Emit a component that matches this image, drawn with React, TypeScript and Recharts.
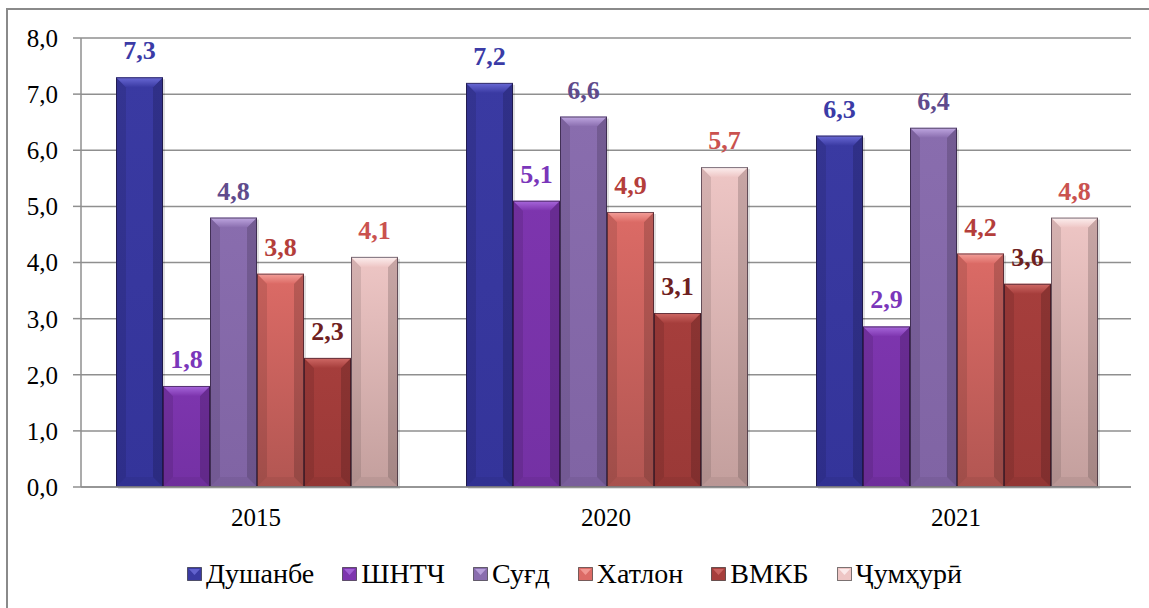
import React from 'react';
import { BarChart, Bar, XAxis, YAxis, CartesianGrid, LabelList, Legend } from 'recharts';

const years = ['2015', '2020', '2021'];
const dushanbe = [7.3, 7.2, 6.26];
const shntch = [1.8, 5.1, 2.86];
const sughd = [4.8, 6.6, 6.4];
const khatlon = [3.8, 4.9, 4.16];
const vmkb = [2.3, 3.1, 3.62];
const jumhuri = [4.1, 5.7, 4.8];
const yTicks = [0, 1, 2, 3, 4, 5, 6, 7, 8];
const edgeTicks = [0, 1, 2, 3];

const FONT = "'Liberation Serif', 'Times New Roman', serif";

const series = [
  { key: 'dushanbe', name: 'Душанбе', values: dushanbe, top: '#3A3AA2', bottom: '#34349A', light: '#6A6AD6', label: '#3B3BA6' },
  { key: 'shntch', name: 'ШНТЧ', values: shntch, top: '#7D35AE', bottom: '#7431A4', light: '#A868DC', label: '#7A36BA' },
  { key: 'sughd', name: 'Суғд', values: sughd, top: '#896DAE', bottom: '#8064A4', light: '#C0A8E2', label: '#5F4B8C' },
  { key: 'khatlon', name: 'Хатлон', values: khatlon, top: '#DC6B66', bottom: '#B25652', light: '#F4A09A', label: '#B43E3B' },
  { key: 'vmkb', name: 'ВМКБ', values: vmkb, top: '#A63E3C', bottom: '#9A3937', light: '#D06A66', label: '#6E2020' },
  { key: 'jumhuri', name: 'Ҷумҳурӣ', values: jumhuri, top: '#EEC6C5', bottom: '#C39F9D', light: '#FDF0F0', label: '#CA524F' },
];

const data = years.map((year, i) => {
  const row: any = { year };
  series.forEach((s) => {
    row[s.key] = s.values[i];
  });
  return row;
});

const fmt = (v: any) => Number(v).toFixed(1).replace('.', ',');

const makeShape = (sid: string) => (props: any) => {
  const { x, y, width, height } = props;
  if (!height || height <= 0) return <g />;
  const b = Math.min(10, height / 2, width / 4);
  const x2 = x + width;
  const y2 = y + height;
  return (
    <g>
      <rect x={x + 2} y={y + 2} width={width} height={height} fill="rgba(0,0,0,0.12)" />
      <rect x={x} y={y} width={width} height={height} fill={`url(#body-${sid})`} />
      <polygon points={`${x},${y} ${x + b},${y + b} ${x + b},${y2 - b} ${x},${y2}`} fill="rgba(0,0,0,0.10)" />
      <polygon points={`${x2},${y} ${x2 - b},${y + b} ${x2 - b},${y2 - b} ${x2},${y2}`} fill="rgba(0,0,0,0.16)" />
      <polygon points={`${x},${y2} ${x + b},${y2 - b} ${x2 - b},${y2 - b} ${x2},${y2}`} fill="rgba(0,0,0,0.05)" />
      <polygon points={`${x},${y} ${x2},${y} ${x2 - b},${y + b} ${x + b},${y + b}`} fill={`url(#top-${sid})`} />
      <rect x={x + 0.5} y={y + 0.5} width={width - 1} height={height - 1} fill="none" stroke="rgba(20,10,30,0.55)" strokeWidth={1} />
    </g>
  );
};

const renderLegend = () => (
  <div
    style={{
      display: 'flex',
      justifyContent: 'center',
      alignItems: 'center',
      fontFamily: FONT,
      fontSize: 28,
      lineHeight: '32px',
      color: '#000',
      whiteSpace: 'nowrap',
    }}
  >
    {series.map((s, i) => (
      <div key={s.key} style={{ display: 'flex', alignItems: 'center', marginRight: i < series.length - 1 ? 28 : 0 }}>
        <svg width={15} height={14} style={{ marginRight: 4 }}>
          <rect x={0.5} y={0.5} width={14} height={13} fill={s.top} stroke="rgba(0,0,0,0.5)" />
          <polygon points="2,2 13,2 7.5,8" fill={s.light} opacity={0.85} />
        </svg>
        <span>{s.name}</span>
      </div>
    ))}
  </div>
);

export default function App() {
  return (
    <div style={{ position: 'absolute', left: 0, top: 0, width: 1149, height: 608, overflow: 'hidden', background: '#fff', fontFamily: FONT }}>
      <div
        style={{
          position: 'absolute',
          left: 6,
          top: 8,
          width: 1170,
          height: 640,
          border: '2px solid #8A8A8A',
          boxSizing: 'border-box',
        }}
      />
      <div style={{ position: 'absolute', left: 0, top: 0 }}>
        <BarChart
          width={1149}
          height={608}
          data={data}
          margin={{ top: 38, right: 18, left: 0, bottom: 81 }}
          barCategoryGap="10%"
          barGap={0}
        >
          <defs>
            {series.map((s) => (
              <linearGradient key={`b-${s.key}`} id={`body-${s.key}`} x1="0" y1="0" x2="0" y2="1">
                <stop offset="0%" stopColor={s.top} />
                <stop offset="100%" stopColor={s.bottom} />
              </linearGradient>
            ))}
            {series.map((s) => (
              <linearGradient key={`t-${s.key}`} id={`top-${s.key}`} x1="0" y1="0" x2="0" y2="1">
                <stop offset="0%" stopColor={s.light} />
                <stop offset="100%" stopColor={s.top} />
              </linearGradient>
            ))}
          </defs>
          <CartesianGrid vertical={false} stroke="#8F8F8F" strokeWidth={1.5} />
          <XAxis
            xAxisId="edge"
            type="number"
            domain={[0, 3]}
            ticks={edgeTicks}
            allowDataOverflow
            height={0}
            tick={false}
            tickSize={8}
            axisLine={false}
            tickLine={{ stroke: '#8F8F8F', strokeWidth: 1.5 }}
          />
          <XAxis
            dataKey="year"
            height={40}
            tickLine={false}
            tickSize={8}
            tickMargin={13}
            axisLine={{ stroke: '#8F8F8F', strokeWidth: 1.5 }}
            tick={{ fontSize: 25, fill: '#000', fontFamily: FONT }}
          />
          <YAxis
            width={81}
            domain={[0, 8]}
            ticks={yTicks}
            interval={0}
            tickFormatter={fmt}
            tickSize={8}
            tickMargin={15}
            axisLine={{ stroke: '#8F8F8F', strokeWidth: 1.5 }}
            tickLine={{ stroke: '#8F8F8F', strokeWidth: 1.5 }}
            tick={{ fontSize: 25, fill: '#000', fontFamily: FONT }}
          />
          <Legend
            verticalAlign="middle"
            align="center"
            content={renderLegend}
            wrapperStyle={{ top: 558, left: 0, width: 1149 }}
          />
          {series.map((s) => (
            <Bar key={s.key} dataKey={s.key} name={s.name} fill={s.top} isAnimationActive={false} shape={makeShape(s.key)}>
              <LabelList
                dataKey={s.key}
                position="top"
                offset={18}
                formatter={fmt}
                fill={s.label}
                fontSize={26}
                fontWeight="bold"
                fontFamily={FONT}
              />
            </Bar>
          ))}
        </BarChart>
      </div>
    </div>
  );
}
